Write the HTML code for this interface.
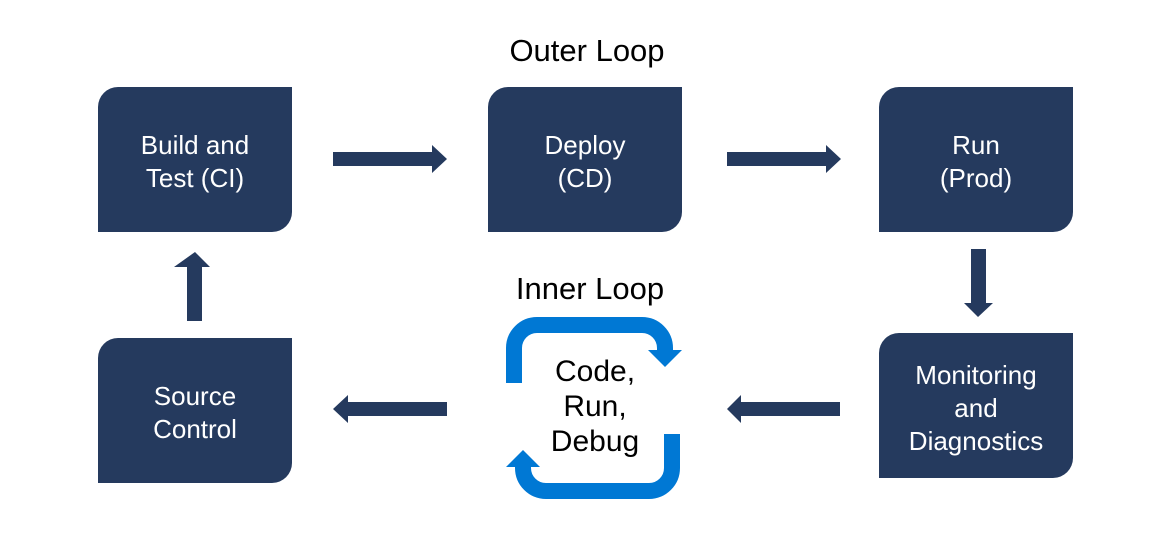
<!DOCTYPE html>
<html><head><style>
html,body{margin:0;padding:0;background:#fff;}
svg{display:block;}
text{font-family:"Liberation Sans",sans-serif;}
</style></head><body>
<svg width="1149" height="558" viewBox="0 0 1149 558" xmlns="http://www.w3.org/2000/svg">
<defs>
<path id="bx" d="M20,0 H194 V125 A20,20 0 0 1 174,145 H0 V20 A20,20 0 0 1 20,0 Z"/>
</defs>
<g fill="#253a5e">
<use href="#bx" x="98" y="87"/>
<use href="#bx" x="488" y="87"/>
<use href="#bx" x="879" y="87"/>
<use href="#bx" x="98" y="338"/>
<use href="#bx" x="879" y="333"/>
<path d="M333,152 H432 V145 L447,159 L432,173 V166 H333 Z"/>
<path d="M727,152 H826 V145 L841,159 L826,173 V166 H727 Z"/>
<path d="M447,402 H348 V395 L333,409 L348,423 V416 H447 Z"/>
<path d="M840,402 H741 V395 L727,409 L741,423 V416 H840 Z"/>
<path d="M187,321 V267 H174 L195,252 L210,267 H202 V321 Z"/>
<path d="M971,249 V303 H964 L978,317 L993,303 H986 V249 Z"/>
</g>
<g fill="#fff" font-size="26" text-anchor="middle">
<text x="195" y="154">Build and</text><text x="195" y="187">Test (CI)</text>
<text x="585" y="154">Deploy</text><text x="585" y="187">(CD)</text>
<text x="976" y="154">Run</text><text x="976" y="187">(Prod)</text>
<text x="195" y="405">Source</text><text x="195" y="438">Control</text>
<text x="976" y="384">Monitoring</text><text x="976" y="417">and</text><text x="976" y="450">Diagnostics</text>
</g>
<g fill="#000" font-size="31" text-anchor="middle">
<text x="587" y="61">Outer Loop</text>
<text x="590" y="299">Inner Loop</text>
</g>
<g fill="#000" font-size="30" text-anchor="middle">
<text x="595" y="381">Code,</text>
<text x="595" y="416">Run,</text>
<text x="595" y="451">Debug</text>
</g>
<g fill="none" stroke="#0078d4" stroke-width="16">
<path d="M514,383 V348 A23,23 0 0 1 537,325 H642 A23,23 0 0 1 665,348 V352"/>
<path d="M672,434 V468 A23,23 0 0 1 649,491 H546 A23,23 0 0 1 523,468 V466"/>
</g>
<g fill="#0078d4">
<path d="M648,350 H682 L665,367 Z"/>
<path d="M506,467 H540 L523,450 Z"/>
</g>
</svg>
</body></html>
